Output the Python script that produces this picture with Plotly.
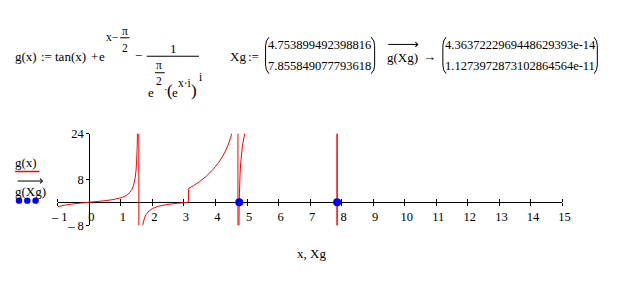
import plotly.graph_objects as go

# ---------------- data ----------------
# g(x) sampled curve; points just outside the visible range keep the
# near-vertical asymptote connectors that the original plot shows
gx_x = [-1.0, -0.75, -0.5, -0.25, 0.0, 0.25, 0.5, 0.75, 1.0, 1.1, 1.2, 1.3, 1.35,
        1.4, 1.45, 1.48, 1.5, 1.52, 1.54, 1.56, 1.5705,
        1.5711, 1.58, 1.6, 1.65, 1.7, 1.75, 1.8, 1.9, 2.0, 2.2, 2.4, 2.6, 2.8, 3.0, 3.14,
        3.15, 3.3, 3.5, 3.7, 3.9, 4.0, 4.1, 4.2, 4.3, 4.4, 4.5, 4.6, 4.65, 4.7, 4.711,
        4.714, 4.72, 4.73, 4.74, 4.75, 4.7539, 4.76, 4.78, 4.8, 4.85, 4.9, 4.95, 5.0,
        5.5, 6.0, 7.0, 7.8, 7.85, 7.8539, 7.8540, 7.8556, 7.8558, 7.857, 7.87, 8.0,
        9.0, 10.0, 12.0, 15.0]
gx_y = [-1.56, -0.93, -0.55, -0.26, 0.0, 0.26, 0.55, 0.93, 1.56, 1.96, 2.57, 3.6, 4.46,
        5.8, 8.2, 10.9, 14.1, 19.7, 32.5, 60, 60,
        -60, -60, -34.2, -12.6, -7.7, -5.5, -4.3, -3.0, -2.19, -1.37, -0.92, -0.6, -0.36, -0.14, 0.0,
        4.85, 5.78, 7.25, 9.02, 11.2, 12.49, 13.95, 15.6, 17.58, 20.0, 23.3, 29.5, 37.6, 60, 60,
        -60, -60, -33.3, -12.5, -2.6, 0.0, 3.2, 9.95, 13.8, 19.3, 22.6, 25.2, 27.4,
        49.9, 60, 60, 60, 60, 60, -60, -60, 0.0, 60, 60, 60,
        60, 60, 60, 60]

# roots Xg and g(Xg)
xg = [4.753899492398816, 7.855849077793618]
g_xg = [4.3637222969448629393e-14, 1.1273972873102864564e-11]
xg_text = ["4.753899492398816", "7.855849077793618"]
gxg_text = ["4.3637222969448629393e-14", "1.1273972873102864564e-11"]

# axis ticks
x_ticks = list(range(-1, 16))
x_ticktext = ["\u2013 1"] + [str(v) for v in range(0, 16)]
y_ticks = [-8, 8, 24]
y_ticktext = ["\u2013 8", "8", "24"]

# ---------------- layout helpers ----------------
W, H = 618, 295
FONT = "Liberation Serif, Times New Roman, serif"


def px(x):
    return x / W


def py(y):
    return 1 - y / H


annotations = []
shapes = []


def txt(t, x, y, size=13, xanchor="center", color="black"):
    annotations.append(dict(text=t, x=px(x), y=py(y), xref="paper", yref="paper",
                            showarrow=False, xanchor=xanchor, yanchor="middle",
                            borderpad=0,
                            font=dict(family=FONT, size=size, color=color)))


def hline(x0, x1, y, color="black", width=1):
    shapes.append(dict(type="line", xref="paper", yref="paper",
                       x0=px(x0), x1=px(x1), y0=py(y), y1=py(y),
                       line=dict(color=color, width=width)))


def arrow(x0, x1, y):
    annotations.append(dict(text="", x=px(x1), y=py(y), xref="paper", yref="paper",
                            ax=x0 - x1, ay=0, showarrow=True, arrowhead=4,
                            arrowsize=0.9, arrowwidth=1, arrowcolor="black"))


def paren(xe, xm, y0, y1):
    # bracket drawn as a path in paper coordinates
    d = 3.5
    pts = [(xe, y0), (xm, y0 + d), (xm, y0 + 9), (xm, y1 - 9), (xm, y1 - d), (xe, y1)]
    p = "M {:.5f},{:.5f} Q {:.5f},{:.5f} {:.5f},{:.5f} L {:.5f},{:.5f} Q {:.5f},{:.5f} {:.5f},{:.5f}".format(
        px(pts[0][0]), py(pts[0][1]), px(pts[1][0]), py(pts[1][1]), px(pts[2][0]), py(pts[2][1]),
        px(pts[3][0]), py(pts[3][1]), px(pts[4][0]), py(pts[4][1]), px(pts[5][0]), py(pts[5][1]))
    shapes.append(dict(type="path", xref="paper", yref="paper", path=p,
                       line=dict(color="black", width=1)))


# ---- formula g(x) := tan(x) + e^(x-pi/2) - 1/(e^(pi/2) (e^(x i))^i) ----
txt("g(x)", 19.2, 51.5)
txt(":=", 40.8, 51.5)
txt("tan(x)", 65.5, 51.5)
txt("+", 89.7, 51.5)
txt("e", 97.7, 51.5)
txt("x\u2212", 107.3, 31.5, size=11.5)
txt("\u03c0", 120.5, 25, size=11.5)
hline(116, 125.5, 32.3)
txt("2", 120.5, 43.3, size=11.5)
txt("\u2212", 135, 51)
hline(143.3, 196.7, 51.7)
txt("1", 170.7, 43.3)
txt("e", 147.7, 90)
txt("\u03c0", 156, 60.5, size=11.5)
hline(151.7, 161.7, 69)
txt("2", 156, 77.5, size=11.5)
txt("\u00b7", 162.6, 86, size=11)
txt("(", 167, 87.5, size=17)
txt("e", 172, 90)
txt("x\u00b7i", 181.5, 80, size=11.5)
txt(")", 191.5, 87.5, size=17)
txt("i", 198.3, 73.3, size=11.5)

# ---- Xg := (...)  ->g(Xg) -> (...) ----
txt("Xg", 237, 51.7)
txt(":=", 253, 51.7)
paren(268.5, 265, 31.7, 70)
paren(373.3, 376.8, 31.7, 70)
txt(xg_text[0], 320.5, 40, size=12.5)
txt(xg_text[1], 320.5, 61.7, size=12.5)
arrow(390, 421.7, 39.3)
txt("g(Xg)", 405.5, 53.3)
txt("\u2192", 432.5, 51.7)
paren(450, 446.7, 31.7, 70)
paren(601.7, 605, 31.7, 70)
txt(gxg_text[0], 526, 40, size=12.5)
txt(gxg_text[1], 526, 61.7, size=12.5)

# ---- trace labels at the left of the plot ----
txt("g(x)", 19.8, 163)
hline(8.3, 33.3, 172.7, color="red", width=1.5)
arrow(10, 37, 182.7)
txt("g(Xg)", 24, 193.3)
for cx in (12.3, 20.8, 29.3):
    r = 3.3
    shapes.append(dict(type="circle", xref="paper", yref="paper",
                       x0=px(cx - r), x1=px(cx + r), y0=py(203.3 + r), y1=py(203.3 - r),
                       fillcolor="blue", line=dict(color="blue", width=0)))

# axis title
txt("x, Xg", 312.5, 258.3)

# ---------------- plot area geometry ----------------
x_dom = [52.0 / W, 569.3 / W]
y_dom = [1 - 229.0 / H, 1 - 133.0 / H]
x_rng = [-1, 15]
y_rng = [-8, 24]
y0_pos = y_dom[0] + (0 - y_rng[0]) / (y_rng[1] - y_rng[0]) * (y_dom[1] - y_dom[0])
x0_pos = x_dom[0] + (0 - x_rng[0]) / (x_rng[1] - x_rng[0]) * (x_dom[1] - x_dom[0])

fig = go.Figure()
fig.add_trace(go.Scatter(x=gx_x, y=gx_y, mode="lines", xaxis="x", yaxis="y",
                         line=dict(color="#ff0000", width=1, simplify=False),
                         showlegend=False, hoverinfo="skip"))
fig.add_trace(go.Scatter(x=xg, y=g_xg, mode="markers", xaxis="x2", yaxis="y",
                         marker=dict(color="#0000ff", size=8), showlegend=False,
                         hoverinfo="skip", cliponaxis=False))

axis_font = dict(family=FONT, size=12.5, color="black")
fig.update_layout(
    width=W, height=H,
    margin=dict(l=0, r=0, t=0, b=0),
    paper_bgcolor="white", plot_bgcolor="white",
    showlegend=False,
    xaxis=dict(domain=x_dom, range=x_rng, anchor="free", position=y0_pos,
               tickvals=x_ticks, ticktext=x_ticktext, ticks="outside", ticklen=3,
               tickcolor="black", tickwidth=1, tickfont=axis_font, ticklabelshift=2,
               showgrid=False, showline=False, zeroline=True, zerolinecolor="black",
               zerolinewidth=1, fixedrange=True),
    xaxis2=dict(domain=x_dom, range=x_rng, anchor="free", position=y0_pos,
                overlaying="x", side="top", tickvals=x_ticks, ticks="outside",
                ticklen=3, tickcolor="black", tickwidth=1, showticklabels=False,
                showgrid=False, showline=False, zeroline=False, fixedrange=True),
    yaxis=dict(domain=y_dom, range=y_rng, anchor="free", position=x0_pos,
               tickvals=y_ticks, ticktext=y_ticktext, ticks="outside", ticklen=3,
               tickcolor="black", tickwidth=1, tickfont=axis_font,
               showgrid=False, showline=False, zeroline=True, zerolinecolor="black",
               zerolinewidth=1, fixedrange=True),
    annotations=annotations,
    shapes=shapes,
)

fig.write_html("out.html", config={"displayModeBar": False})
